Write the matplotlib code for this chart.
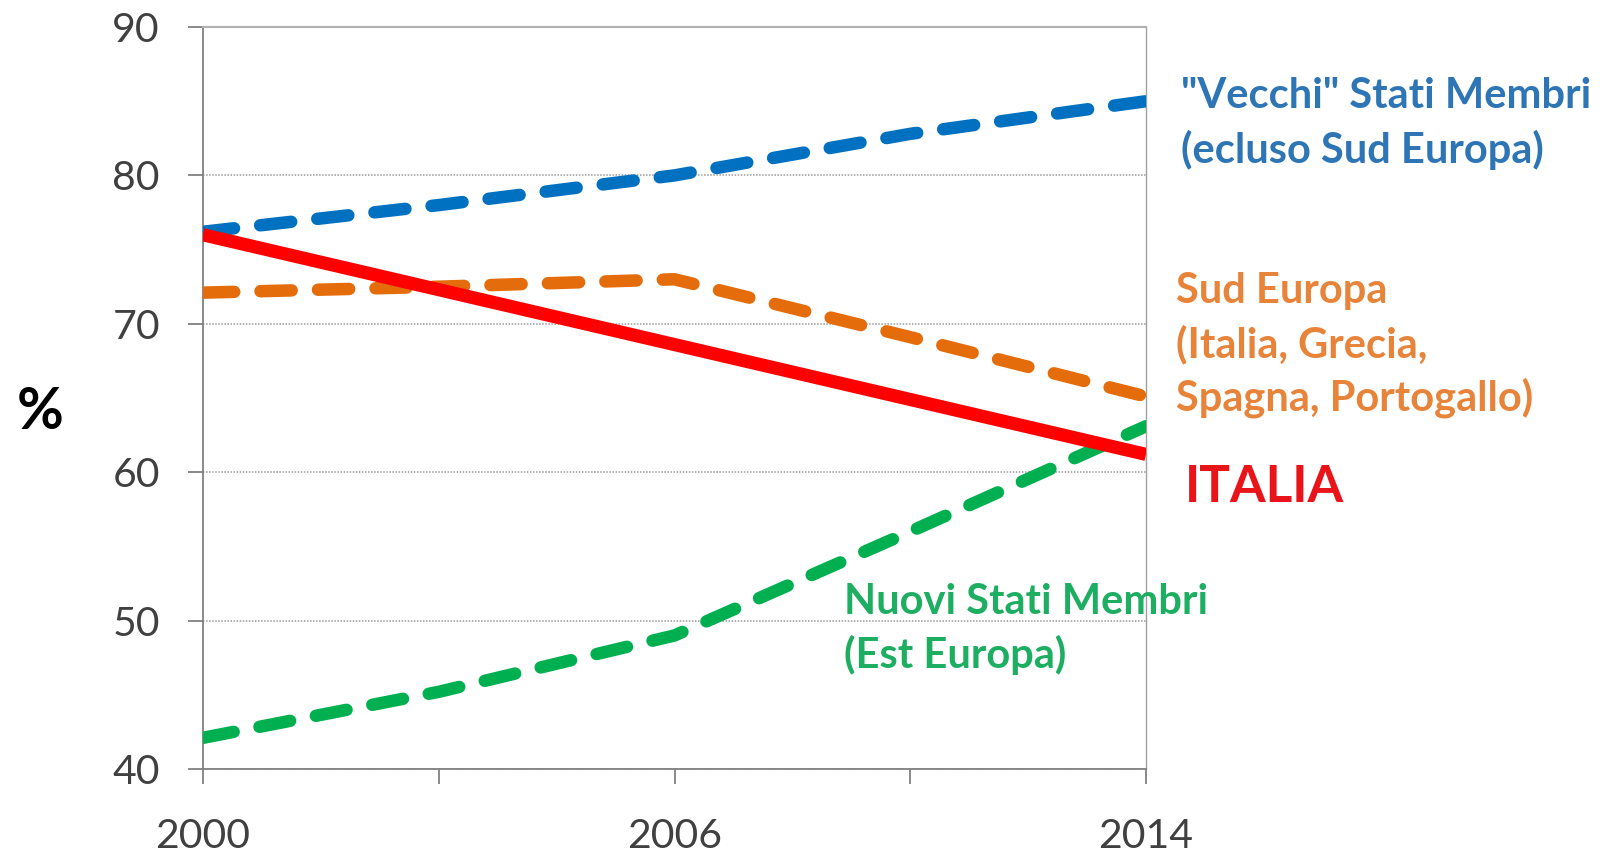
import matplotlib
matplotlib.use("Agg")
import matplotlib.pyplot as plt

plt.rcParams['font.family'] = ['Lato', 'DejaVu Sans']

# category axis: 5 points, only first / middle / last labelled
periods = ['2000', '', '2006', '', '2014']

vecchi = [76.2, 78.0, 80.0, 82.8, 85.0]   # "Vecchi" Stati Membri
sud = [72.1, 72.5, 73.0, 69.1, 65.1]      # Sud Europa
italia = [76.0, 72.3, 68.6, 64.9, 61.2]   # Italia
nuovi = [42.1, 45.2, 49.0, 56.0, 63.1]    # Nuovi Stati Membri

c_blue = '#0070C0'
c_orange = '#E46C0A'
c_red = '#FF0000'
c_green = '#00B050'

fig = plt.figure(figsize=(16.13, 8.52), dpi=100)
ax = fig.add_axes([203/1613, 1 - 769/852, (1146 - 203)/1613, (769 - 27)/852])

x = list(range(len(periods)))

dash = (2.5, 2.1)
ax.plot(x, vecchi, color=c_blue, lw=9, dashes=dash, dash_capstyle='round', zorder=3)
ax.plot(x, sud, color=c_orange, lw=9, dashes=dash, dash_capstyle='round', zorder=3)
ax.plot(x, nuovi, color=c_green, lw=9, dashes=dash, dash_capstyle='round', zorder=3)
ax.plot(x, italia, color=c_red, lw=9.5, solid_capstyle='butt', zorder=4)

ax.set_xlim(0, 4)
ax.set_ylim(40, 90)
ax.set_xticks(x)
ax.set_xticklabels(periods)
ax.set_yticks([40, 50, 60, 70, 80, 90])

ax.yaxis.grid(True, linestyle=(0, (1.0, 1.0)), color='#9A9A9A', lw=1.1)
ax.set_axisbelow(True)

for side in ['left', 'bottom']:
    ax.spines[side].set_color('#808080')
    ax.spines[side].set_linewidth(1.3)
ax.spines['top'].set_color('#B0B0B0')
ax.spines['top'].set_linewidth(1.5)
ax.spines['right'].set_color('#A0A0A0')
ax.spines['right'].set_linewidth(1.0)

ax.tick_params(axis='both', direction='out', length=11, width=1.3, color='#808080',
               labelsize=29.5, labelcolor='#404040')
ax.tick_params(axis='y', pad=20)
ax.tick_params(axis='x', pad=24)

ax.text(-0.69, 64.0, '%', fontsize=41, fontweight='bold', color='black',
        ha='center', va='center')

ax.text(4.15, 83.5, '"Vecchi" Stati Membri\n(ecluso Sud Europa)', fontsize=30,
        fontweight='bold', color='#2E75B6', ha='left', va='center',
        linespacing=1.42, clip_on=False)
ax.text(4.127, 68.55, 'Sud Europa\n(Italia, Grecia,\nSpagna, Portogallo)', fontsize=30,
        fontweight='bold', color='#E8833A', ha='left', va='center',
        linespacing=1.42, clip_on=False)
ax.text(4.165, 59.0, 'ITALIA', fontsize=37, fontweight='bold', color='#E8141A',
        ha='left', va='center', clip_on=False)
ax.text(2.72, 49.45, 'Nuovi Stati Membri\n(Est Europa)', fontsize=30,
        fontweight='bold', color='#1EAE62', ha='left', va='center',
        linespacing=1.42, clip_on=False)

fig.savefig('out.png', dpi=100)
